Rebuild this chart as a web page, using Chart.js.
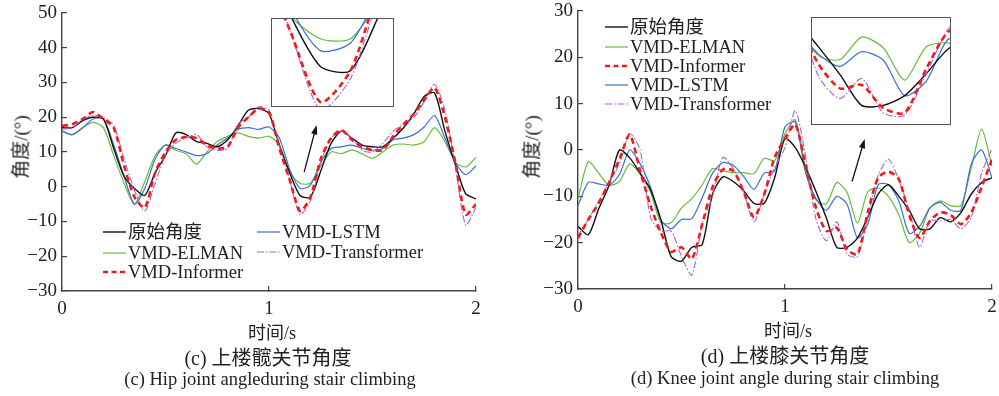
<!DOCTYPE html>
<html>
<head>
<meta charset="utf-8">
<script src="https://cdn.jsdelivr.net/npm/chart.js@4.4.0/dist/chart.umd.min.js"></script>
<style>
  body { margin: 0; background: #fff; width: 999px; height: 396px; position: relative; overflow: hidden;
         font-family: "Liberation Serif", "Noto Sans CJK SC", serif; color: #222; }
  .box { position: absolute; }
  .txt { position: absolute; white-space: nowrap; transform: translate(-50%, -50%); }
  .vert { transform: translate(-50%, -50%) rotate(-90deg); }
  .inset { position: absolute; border: 1.5px solid #555; box-sizing: border-box; background: #fff; }
</style>
</head>
<body>
<div class="box" style="left:0;top:0;width:500px;height:320px"><canvas id="hip"></canvas></div>
<div class="box" style="left:500px;top:0;width:499px;height:320px"><canvas id="knee"></canvas></div>
<div class="inset" style="left:271px;top:18px;width:123px;height:89px"><canvas id="hipZoom"></canvas></div>
<div class="inset" style="left:811px;top:17px;width:140px;height:108px"><canvas id="kneeZoom"></canvas></div>

<div class="txt vert" style="left:19px;top:147px;font-size:19px">角度/(°)</div>
<div class="txt vert" style="left:530px;top:147px;font-size:19px">角度/(°)</div>
<div class="txt" style="left:272px;top:331px;font-size:18px">时间/s</div>
<div class="txt" style="left:788px;top:329px;font-size:18px">时间/s</div>
<div class="txt" style="left:268px;top:356px;font-size:20px">(c) 上楼髋关节角度</div>
<div class="txt" style="left:785px;top:354px;font-size:20px">(d) 上楼膝关节角度</div>
<div class="txt" style="left:270px;top:379px;font-size:18.5px">(c) Hip joint angleduring stair climbing</div>
<div class="txt" style="left:785px;top:378px;font-size:18.5px">(d) Knee joint angle during stair climbing</div>

<script>
// time axis, seconds
var TIME = [0, 0.05, 0.1, 0.15, 0.2, 0.25, 0.3, 0.35, 0.4, 0.45, 0.5, 0.55, 0.6, 0.65, 0.7, 0.75,
            0.8, 0.85, 0.9, 0.95, 1, 1.05, 1.1, 1.15, 1.2, 1.25, 1.3, 1.35, 1.4, 1.45, 1.5, 1.55,
            1.6, 1.65, 1.7, 1.75, 1.8, 1.85, 1.9, 1.95, 2];

var SERIES_NAMES = ['原始角度', 'VMD-ELMAN', 'VMD-Informer', 'VMD-LSTM', 'VMD-Transformer'];

// (c) hip joint
var hipActual      = [17, 17, 19, 20, 19.5, 11, 3, -0.5, -2.5, 4, 9, 15.5, 15, 13, 12.5, 11.5, 13.5, 17.5, 22, 22.5, 21, 12, 4, -2.5, -3, 4.5, 12.5, 16, 14, 12, 11.5, 11.5, 14, 17, 21, 26, 27, 16, 6.5, -2, -3.5];
var hipElman       = [16, 15, 17, 18.5, 17, 9, 1, -5, 1.5, 9, 12, 10.5, 9.5, 6.5, 10, 13, 14.5, 15.5, 14.5, 14, 14.5, 12, 4, 1, 1, 6, 10, 9.5, 10.6, 9.5, 8.2, 10, 12, 12.3, 12, 13, 17, 13, 7, 5.7, 8.5];
var hipInformer    = [17.5, 18, 19.5, 21.5, 19.5, 17, 6, -3, -6, 4, 10, 13.5, 14.3, 14, 12, 11, 11.5, 17, 20, 22.5, 21.5, 11, 2, -7, -3, 8, 14, 16.3, 13.5, 11.5, 10.5, 10.6, 14.5, 18, 21, 25, 28.5, 20, 7, -8, -5];
var hipLstm        = [16, 15, 17, 19.5, 19.5, 12, 3, -5, -0.5, 8, 12, 11, 10, 9, 9.5, 12, 14, 16.5, 17, 16.5, 17.2, 14, 5, -0.5, 0.5, 7, 11, 11.5, 12, 11, 10.5, 11, 13.5, 14, 15, 17.2, 20.5, 14, 7, 3.5, 6];
var hipTransformer = [16.5, 17, 19.5, 20.5, 20, 17.5, 8, -1, -7, 1, 9, 12.5, 14, 15, 11.5, 10.5, 11, 18, 20, 23, 22, 12, 2, -8, -4, 7, 14, 16, 14, 10.5, 10, 12.5, 16, 18, 20, 24.5, 29.5, 22, 6, -11, -6];

// (d) knee joint
var kneeActual      = [-16.5, -18.3, -12.7, -7.6, 0, -1.7, -5, -8.5, -15, -23, -24, -21, -20.4, -9.5, -5.8, -6.8, -8.8, -11.5, -11.5, -6, 2.5, 0.5, -3.8, -9, -14.7, -21, -21, -19, -14.5, -9.5, -7.5, -10, -13, -17, -17, -14.6, -15.5, -13.5, -9.5, -7, -6];
var kneeElman       = [-10.5, -2.5, -5, -7.6, -6.8, -3, -5.2, -9, -15.7, -15.7, -12.5, -10.5, -7.5, -4, -4.5, -4.9, -4.9, -5.1, -1.8, -2.3, 3.5, 6.5, -4, -10.8, -11.6, -7, -9.2, -15.8, -9, -8.2, -10, -14, -20, -18, -12.5, -11, -12, -12, -3.8, 4.5, -3.5];
var kneeInformer    = [-19, -15, -11.5, -7, -2, 3.3, -4.5, -12, -17.8, -22, -21, -23.5, -16, -8, -4.2, -4.5, -9, -14.5, -9.5, -1.6, 2.5, 5.5, -3.5, -12.5, -17.5, -16.8, -21.5, -22.5, -13.5, -6, -4.7, -6.3, -14, -19, -15.3, -13.5, -14, -16, -13.5, -8, -2];
var kneeLstm        = [-12, -7, -7.3, -7.6, -5.3, 0, -3, -8, -15, -17, -15, -14.8, -10.3, -5, -2.7, -3.3, -5.7, -8.5, -5, -4.5, 5, 6, -5, -10.5, -13, -10, -11.7, -19, -16, -7.5, -7.5, -11, -18, -16.5, -12.5, -11.3, -13, -13, -3, 0, -6];
var kneeTransformer = [-18.5, -15, -11, -7, -3, 3.5, 0, -14.5, -17.5, -17.5, -23, -27, -16, -10, -1.6, -4, -9, -15.5, -9.5, -3.8, 0.5, 8.5, -1.5, -15, -19.6, -15.5, -22.5, -23, -14.5, -5.5, -2, -6.5, -13, -21, -15.3, -15.3, -15, -17, -14.5, -5, 0.3];

// line looks, same order as SERIES_NAMES
var STYLES = [
  { color: '#111111', width: 1.4, dash: [],            order: 2 },
  { color: '#66bb3c', width: 1.2, dash: [],            order: 4 },
  { color: '#f01c1c', width: 2.6, dash: [6, 4],        order: 0 },
  { color: '#3b6fd0', width: 1.2, dash: [],            order: 3 },
  { color: '#b05fce', width: 1.1, dash: [7, 2, 1.5, 2], order: 1 }
];

const SERIF = '"Liberation Serif", "Noto Sans CJK SC", serif';

function minus(v) {
  return v < 0 ? '\u2212' + Math.abs(v) : String(v);
}

function buildDatasets(seriesList) {
  return seriesList.map((vals, i) => ({
    label: SERIES_NAMES[i],
    data: vals,
    borderColor: STYLES[i].color,
    backgroundColor: STYLES[i].color,
    borderWidth: STYLES[i].width,
    borderDash: STYLES[i].dash,
    order: STYLES[i].order,
    pointRadius: 0,
    tension: 0.25,
    fill: false
  }));
}

// legend drawn at fixed slots inside the plot
const slotLegend = {
  id: 'slotLegend',
  afterDraw(chart, args, opts) {
    const ctx = chart.ctx;
    ctx.save();
    ctx.font = '18.5px ' + SERIF;
    ctx.textBaseline = 'middle';
    ctx.fillStyle = '#222';
    chart.data.datasets.forEach((ds, i) => {
      const p = opts.slots[i];
      ctx.strokeStyle = ds.borderColor;
      ctx.lineWidth = ds.borderWidth;
      ctx.setLineDash(ds.borderDash.length === 2 ? [5, 3.5] : ds.borderDash);
      ctx.beginPath();
      ctx.moveTo(p[0], p[1]);
      ctx.lineTo(p[0] + 23, p[1]);
      ctx.stroke();
      ctx.setLineDash([]);
      ctx.fillText(ds.label, p[0] + 25, p[1] + 1);
    });
    ctx.restore();
  }
};

// arrow pointing at the zoom box, ends given in data units
const pointer = {
  id: 'pointer',
  afterDraw(chart, args, opts) {
    if (!opts.from) return;
    const xs = chart.scales.x, ys = chart.scales.y, ctx = chart.ctx;
    const x1 = xs.getPixelForValue(opts.from[0]), y1 = ys.getPixelForValue(opts.from[1]);
    const x2 = xs.getPixelForValue(opts.to[0]), y2 = ys.getPixelForValue(opts.to[1]);
    const a = Math.atan2(y2 - y1, x2 - x1);
    ctx.save();
    ctx.strokeStyle = '#111';
    ctx.fillStyle = '#111';
    ctx.lineWidth = 1.3;
    ctx.beginPath();
    ctx.moveTo(x1, y1);
    ctx.lineTo(x2 - Math.cos(a) * 6, y2 - Math.sin(a) * 6);
    ctx.stroke();
    ctx.beginPath();
    ctx.moveTo(x2, y2);
    ctx.lineTo(x2 - Math.cos(a - 0.32) * 10, y2 - Math.sin(a - 0.32) * 10);
    ctx.lineTo(x2 - Math.cos(a + 0.32) * 10, y2 - Math.sin(a + 0.32) * 10);
    ctx.closePath();
    ctx.fill();
    ctx.restore();
  }
};

function axisTicks(extra) {
  return Object.assign({ color: '#222', font: { family: SERIF, size: 19 }, callback: minus }, extra);
}

const GRID = { drawOnChartArea: false, tickLength: -5, color: '#444', lineWidth: 1.2 };
const BORDER = { color: '#444', width: 1.4 };

// the layout padding already leaves room for the end labels
function noEdgePadding(s) {
  s.paddingLeft = 0;
  s.paddingRight = 0;
  s.paddingTop = 0;
  s.paddingBottom = 0;
}

function mainChart(id, seriesList, yMin, yMax, yWidth, xHeight, pad, slots, arrow) {
  return new Chart(document.getElementById(id), {
    type: 'line',
    data: { labels: TIME, datasets: buildDatasets(seriesList) },
    options: {
      responsive: true,
      maintainAspectRatio: false,
      animation: false,
      layout: { padding: pad },
      plugins: {
        legend: { display: false },
        tooltip: { enabled: false },
        slotLegend: { slots: slots },
        pointer: arrow
      },
      scales: {
        x: {
          type: 'linear', min: 0, max: 2,
          afterFit: s => { s.height = xHeight; noEdgePadding(s); },
          ticks: axisTicks({ stepSize: 1, padding: 12, maxRotation: 0 }),
          grid: GRID, border: BORDER
        },
        y: {
          min: yMin, max: yMax,
          afterFit: s => { s.width = yWidth; noEdgePadding(s); },
          ticks: axisTicks({ stepSize: 10, padding: 10 }),
          grid: GRID, border: BORDER
        }
      }
    },
    plugins: [slotLegend, pointer]
  });
}

function zoomChart(id, seriesList, xr, yr) {
  return new Chart(document.getElementById(id), {
    type: 'line',
    data: { labels: TIME, datasets: buildDatasets(seriesList) },
    options: {
      responsive: true,
      maintainAspectRatio: false,
      animation: false,
      layout: { padding: 0 },
      plugins: { legend: { display: false }, tooltip: { enabled: false } },
      scales: {
        x: { type: 'linear', min: xr[0], max: xr[1], display: false },
        y: { min: yr[0], max: yr[1], display: false }
      }
    }
  });
}

var hipSeries = [hipActual, hipElman, hipInformer, hipLstm, hipTransformer];
var kneeSeries = [kneeActual, kneeElman, kneeInformer, kneeLstm, kneeTransformer];

mainChart('hip', hipSeries, -30, 50, 62, 29, { left: 0, right: 24, top: 13, bottom: 0 },
  [[103, 232], [103, 253], [103, 272], [257, 232], [257, 252]],
  { from: [1.17, 4.2], to: [1.23, 17.8] });

mainChart('knee', kneeSeries, -30, 30, 78, 31, { left: 0, right: 7, top: 11, bottom: 0 },
  [[105, 27], [105, 47], [105, 66], [105, 85], [105, 104]],
  { from: [1.324, -6.8], to: [1.385, 2.4] });

zoomChart('hipZoom', hipSeries, [1.07, 1.27], [-7.5, 3.5]);
zoomChart('kneeZoom', kneeSeries, [1.135, 1.455], [-24.8, -3.1]);
</script>
</body>
</html>
